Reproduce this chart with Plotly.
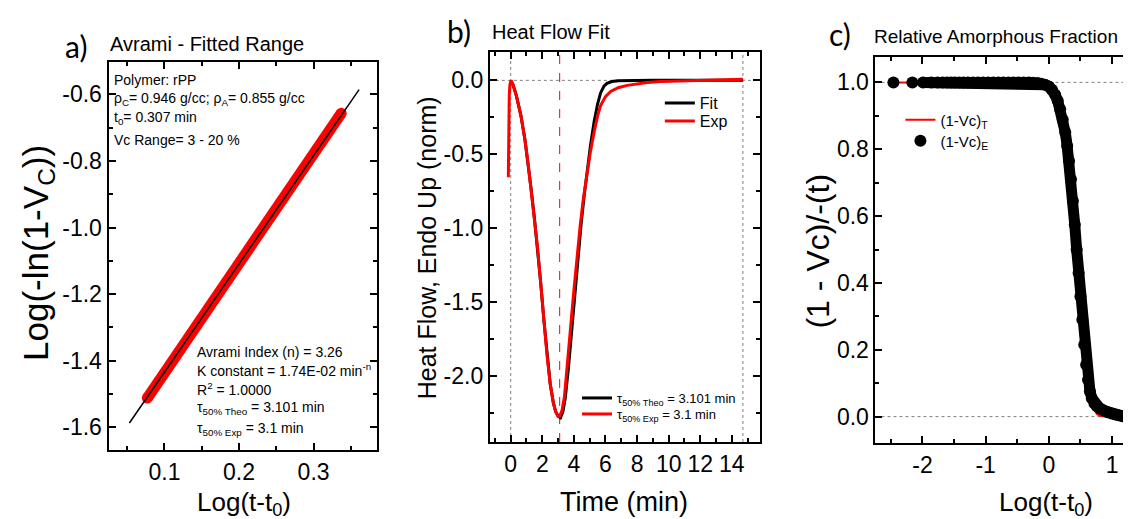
import plotly.graph_objects as go

W, H = 1131, 519
FONT = "Liberation Sans, Arial, sans-serif"
RED = "#ff0000"

# ---------------- Panel a : Avrami fitted range ----------------
a_exp_x = [0.077, 0.337]
a_exp_y = [-1.512, -0.657]
a_fit_x = [0.053, 0.361]
a_fit_y = [-1.587, -0.586]
a_xmajor = [0.1, 0.2, 0.3]
a_xtick_text = ["0.1", "0.2", "0.3"]
a_ymajor = [-0.6, -0.8, -1.0, -1.2, -1.4, -1.6]
a_ytick_text = ["-0.6", "-0.8", "-1.0", "-1.2", "-1.4", "-1.6"]
a_info_top = ["Polymer: rPP",
              "ρ<sub>C</sub>= 0.946 g/cc; ρ<sub>A</sub>= 0.855 g/cc",
              "t<sub>0</sub>= 0.307 min",
              "Vc Range= 3 - 20 %"]
a_info_bottom = ["Avrami Index (n) = 3.26",
                 "K constant = 1.74E-02 min<sup>-n</sup>",
                 "R<sup>2</sup> = 1.0000",
                 "τ<sub>50% Theo</sub> = 3.101 min",
                 "τ<sub>50% Exp</sub> = 3.1 min"]

# ---------------- Panel b : Heat flow fit ----------------
b_fit_t = [0.00, 0.15, 0.35, 0.65, 0.90, 1.10, 1.30, 1.50, 1.70, 1.90,
           2.10, 2.30, 2.50, 2.70, 2.85, 3.00, 3.15, 3.30, 3.45, 3.65,
           3.85, 4.05, 4.25, 4.45, 4.65, 4.85, 5.05, 5.28, 5.50, 5.69,
           5.90, 6.10, 6.40, 6.80, 7.50, 9.00, 11.0, 13.0, 14.7]
b_fit_y = [0.00, -0.03, -0.10, -0.24, -0.40, -0.56, -0.74, -0.93, -1.13, -1.37,
           -1.62, -1.86, -2.05, -2.18, -2.24, -2.27, -2.28, -2.24, -2.15, -1.95,
           -1.70, -1.45, -1.20, -0.98, -0.78, -0.60, -0.44, -0.28, -0.16, -0.085,
           -0.04, -0.02, -0.008, -0.002, 0.0, 0.0, 0.0, 0.0, 0.0]
b_exp_t = [-0.15, -0.14, -0.12, -0.09, -0.05, 0.02, 0.15, 0.35, 0.65, 0.90,
           1.10, 1.30, 1.50, 1.70, 1.90, 2.10, 2.30, 2.50, 2.70, 2.85,
           3.00, 3.10, 3.25, 3.40, 3.60, 3.80, 4.00, 4.20, 4.40, 4.60,
           4.85, 5.05, 5.28, 5.50, 5.69, 6.00, 6.33, 6.80, 7.38, 8.00,
           8.64, 9.50, 10.5, 11.5, 12.5, 13.5, 14.7]
b_exp_y = [-0.655, -0.45, -0.25, -0.10, -0.03, 0.00, -0.03, -0.10, -0.24, -0.40,
           -0.56, -0.74, -0.93, -1.13, -1.37, -1.62, -1.86, -2.05, -2.18, -2.24,
           -2.27, -2.27, -2.23, -2.14, -1.92, -1.66, -1.42, -1.19, -0.98, -0.80,
           -0.62, -0.48, -0.35, -0.24, -0.17, -0.11, -0.075, -0.05, -0.034, -0.022,
           -0.014, -0.008, -0.004, -0.001, 0.002, 0.005, 0.008]
b_t_start = 0.0
b_t_end = 14.7
b_tau_exp = 3.1
b_baseline = 0.0
b_xmajor = [0, 2, 4, 6, 8, 10, 12, 14]
b_xtick_text = ["0", "2", "4", "6", "8", "10", "12", "14"]
b_ymajor = [0.0, -0.5, -1.0, -1.5, -2.0]
b_ytick_text = ["0.0", "-0.5", "-1.0", "-1.5", "-2.0"]
b_tau_labels = ["τ<sub>50% Theo</sub> = 3.101 min", "τ<sub>50% Exp</sub> = 3.1 min"]

# ---------------- Panel c : Relative amorphous fraction ----------------
c_x = [-2.46, -2.16, -1.99, -1.86, -1.76, -1.68, -1.61, -1.55, -1.49, -1.42,
       -1.35, -1.28, -1.20, -1.12, -1.04, -0.96, -0.88, -0.80, -0.72, -0.64,
       -0.56, -0.48, -0.40, -0.32, -0.25, -0.18, -0.12, -0.06, 0.00, 0.05,
       0.10, 0.14, 0.18, 0.22, 0.26, 0.29, 0.32, 0.35, 0.38, 0.41,
       0.44, 0.47, 0.50, 0.53, 0.56, 0.59, 0.62, 0.65, 0.68, 0.72,
       0.76, 0.81, 0.87, 0.93, 0.99, 1.05, 1.10, 1.15, 1.19]
c_exp_y = [1.0, 1.0, 1.0, 1.0, 1.0, 1.0, 1.0, 1.0, 1.0, 1.0,
           1.0, 1.0, 1.0, 1.0, 1.0, 1.0, 1.0, 1.0, 1.0, 1.0,
           1.0, 1.0, 1.0, 1.0, 0.999, 0.998, 0.996, 0.993, 0.988, 0.978,
           0.963, 0.945, 0.920, 0.888, 0.850, 0.810, 0.765, 0.710, 0.645, 0.575,
           0.500, 0.430, 0.360, 0.290, 0.215, 0.155, 0.110, 0.076, 0.055, 0.040,
           0.031, 0.024, 0.018, 0.013, 0.009, 0.006, 0.004, 0.002, 0.0]
c_theo_y = [1.0, 1.0, 1.0, 1.0, 1.0, 1.0, 1.0, 1.0, 1.0, 1.0,
            1.0, 1.0, 1.0, 1.0, 1.0, 1.0, 1.0, 1.0, 1.0, 1.0,
            1.0, 1.0, 1.0, 1.0, 0.999, 0.998, 0.996, 0.993, 0.988, 0.978,
            0.963, 0.945, 0.920, 0.888, 0.850, 0.810, 0.765, 0.710, 0.645, 0.575,
            0.500, 0.430, 0.360, 0.290, 0.215, 0.155, 0.110, 0.070, 0.042, 0.020,
            0.008, 0.002, 0.0, 0.0, 0.0, 0.0, 0.0, 0.0, 0.0]
c_ref_levels = [0.0, 1.0]
c_xmajor = [-2, -1, 0, 1]
c_xtick_text = ["-2", "-1", "0", "1"]
c_ymajor = [0.0, 0.2, 0.4, 0.6, 0.8, 1.0]
c_ytick_text = ["0.0", "0.2", "0.4", "0.6", "0.8", "1.0"]

# ---------------- frame geometry (pixels), ranges and minor tick steps ----------------
PANELS = {
    "a": dict(x=(100.7, 370), y=(54, 442), xr=[0.025, 0.3855], yr=[-1.668, -0.503],
              xminor=0.05, yminor=0.1),
    "b": dict(x=(482.7, 753), y=(43.5, 434), xr=[-1.32, 15.76], yr=[-2.444, 0.195],
              xminor=1, yminor=0.25),
    "c": dict(x=(869, 1131), y=(49, 435), xr=[-2.744, 1.395], yr=[-0.079, 1.076],
              xminor=0.5, yminor=0.1),
}


def xd(l, r):
    return [l / W, min(r / W, 1.0)]


def yd(t, b):
    return [(H - b) / H, (H - t) / H]


def px(x):
    return x / W


def py(y):
    return 1 - y / H


fig = go.Figure()

fig.add_trace(go.Scatter(x=a_exp_x, y=a_exp_y, mode="lines+markers",
                         line=dict(color=RED, width=11), marker=dict(color=RED, size=11),
                         showlegend=False, hoverinfo="skip", xaxis="x", yaxis="y"))
fig.add_trace(go.Scatter(x=a_fit_x, y=a_fit_y, mode="lines",
                         line=dict(color="black", width=1.5),
                         showlegend=False, xaxis="x", yaxis="y"))

fig.add_trace(go.Scatter(x=b_fit_t, y=b_fit_y, mode="lines", name="Fit",
                         line=dict(color="black", width=3),
                         legend="legend", xaxis="x2", yaxis="y2"))
fig.add_trace(go.Scatter(x=b_exp_t, y=b_exp_y, mode="lines", name="Exp",
                         line=dict(color=RED, width=3),
                         legend="legend2", xaxis="x2", yaxis="y2"))
fig.add_trace(go.Scatter(x=[None], y=[None], mode="lines", name=b_tau_labels[0],
                         line=dict(color="black", width=3),
                         legend="legend3", xaxis="x2", yaxis="y2"))
fig.add_trace(go.Scatter(x=[None], y=[None], mode="lines", name=b_tau_labels[1],
                         line=dict(color=RED, width=3),
                         legend="legend4", xaxis="x2", yaxis="y2"))

fig.add_trace(go.Scatter(x=c_x, y=c_theo_y, mode="lines", name="(1-Vc)<sub>T</sub>",
                         line=dict(color=RED, width=2),
                         legend="legend5", xaxis="x3", yaxis="y3"))
fig.add_trace(go.Scatter(x=c_x[2:], y=c_exp_y[2:], mode="lines",
                         line=dict(color="black", width=11),
                         showlegend=False, hoverinfo="skip", xaxis="x3", yaxis="y3"))
fig.add_trace(go.Scatter(x=c_x, y=c_exp_y, mode="markers", name="(1-Vc)<sub>E</sub>",
                         marker=dict(color="black", size=12, line=dict(width=0)),
                         legend="legend6", xaxis="x3", yaxis="y3"))

dot = dict(color="#808080", width=1, dash="dot")
shapes = [
    dict(type="line", xref="x2 domain", x0=0, x1=1, yref="y2", y0=b_baseline, y1=b_baseline, line=dot, layer="below"),
    dict(type="line", xref="x2", x0=b_t_start, x1=b_t_start, yref="y2 domain", y0=0, y1=1, line=dot, layer="below"),
    dict(type="line", xref="x2", x0=b_t_end, x1=b_t_end, yref="y2 domain", y0=0, y1=1, line=dot, layer="below"),
    dict(type="line", xref="x2", x0=b_tau_exp, x1=b_tau_exp, yref="y2 domain", y0=0, y1=1,
         line=dict(color=RED, width=1, dash="dash"), layer="below"),
]
for lv in c_ref_levels:
    shapes.append(dict(type="line", xref="x3 domain", x0=0, x1=1, yref="y3", y0=lv, y1=lv,
                       line=dot, layer="below"))


def axis_style(key, which, tv, tt, anchor):
    p = PANELS[key]
    if which == "x":
        rng, dom, mdt = p["xr"], xd(*p["x"]), p["xminor"]
    else:
        rng, dom, mdt = p["yr"], yd(*p["y"]), p["yminor"]
    return dict(
        range=rng, domain=dom, anchor=anchor,
        tickmode="array", tickvals=tv, ticktext=tt,
        ticks="inside", ticklen=7, tickwidth=2, tickcolor="black",
        minor=dict(ticks="inside", ticklen=4, tickwidth=1.5, tickcolor="black",
                   tickmode="linear", tick0=0, dtick=mdt),
        showline=True, linecolor="black", linewidth=2, mirror="allticks",
        showgrid=False, zeroline=False,
        tickfont=dict(family=FONT, size=23, color="black"),
    )


layout_axes = dict(
    xaxis=axis_style("a", "x", a_xmajor, a_xtick_text, "y"),
    yaxis=axis_style("a", "y", a_ymajor, a_ytick_text, "x"),
    xaxis2=axis_style("b", "x", b_xmajor, b_xtick_text, "y2"),
    yaxis2=axis_style("b", "y", b_ymajor, b_ytick_text, "x2"),
    xaxis3=axis_style("c", "x", c_xmajor, c_xtick_text, "y3"),
    yaxis3=axis_style("c", "y", c_ymajor, c_ytick_text, "x3"),
)


def leg(x, y, size):
    return dict(x=px(x), y=py(y), xanchor="left", yanchor="middle",
                bgcolor="rgba(0,0,0,0)", borderwidth=0,
                font=dict(family=FONT, size=size, color="black"))


annotations = []


def ann(text, x, y, size, xanchor="left", family=FONT, textangle=0):
    annotations.append(dict(text=text, x=px(x), y=py(y), xref="paper", yref="paper",
                            xanchor=xanchor, yanchor="middle", showarrow=False,
                            textangle=textangle,
                            font=dict(family=family, size=size, color="black")))


ann("a)", 68, 38, 30, "center", "Lato, Carlito, sans-serif")
ann("b)", 452, 23, 30, "center", "Lato, Carlito, sans-serif")
ann("c)", 833, 26, 30, "center", "Lato, Carlito, sans-serif")
ann("Avrami - Fitted Range", 100, 36, 20)
ann("Heat Flow Fit", 483, 24, 20)
ann("Relative Amorphous Fraction", 866, 28, 19)

ann("Log(t-t<sub>0</sub>)", 236, 495, 26, "center")
ann("Time (min)", 617, 494, 27, "center")
ann("Log(t-t<sub>0</sub>)", 1040, 495, 26, "center")
ann("Log(-ln(1-V<sub>C</sub>))", 30, 245, 35, "center", textangle=-90)
ann("Heat Flow, Endo Up (norm)", 420, 240, 25, "center", textangle=-90)
ann("(1 - Vc)/-(t)", 811, 243, 32, "center", textangle=-90)

for txt, yy in zip(a_info_top, [71.7, 90.7, 110, 131.7]):
    ann(txt, 104, yy, 14)
for txt, yy in zip(a_info_bottom, [344, 362.3, 380.7, 400, 420.7]):
    ann(txt, 187, yy, 14)

fig.update_layout(
    width=W, height=H,
    margin=dict(l=0, r=0, t=0, b=0),
    paper_bgcolor="white", plot_bgcolor="white",
    font=dict(family=FONT, color="black"),
    shapes=shapes,
    annotations=annotations,
    legend=leg(653, 95, 16),
    legend2=leg(653, 113, 16),
    legend3=leg(570, 390, 13),
    legend4=leg(570, 406, 13),
    legend5=leg(894, 112, 15),
    legend6=leg(894, 133, 15),
    **layout_axes,
)

fig.write_html("out.html")
